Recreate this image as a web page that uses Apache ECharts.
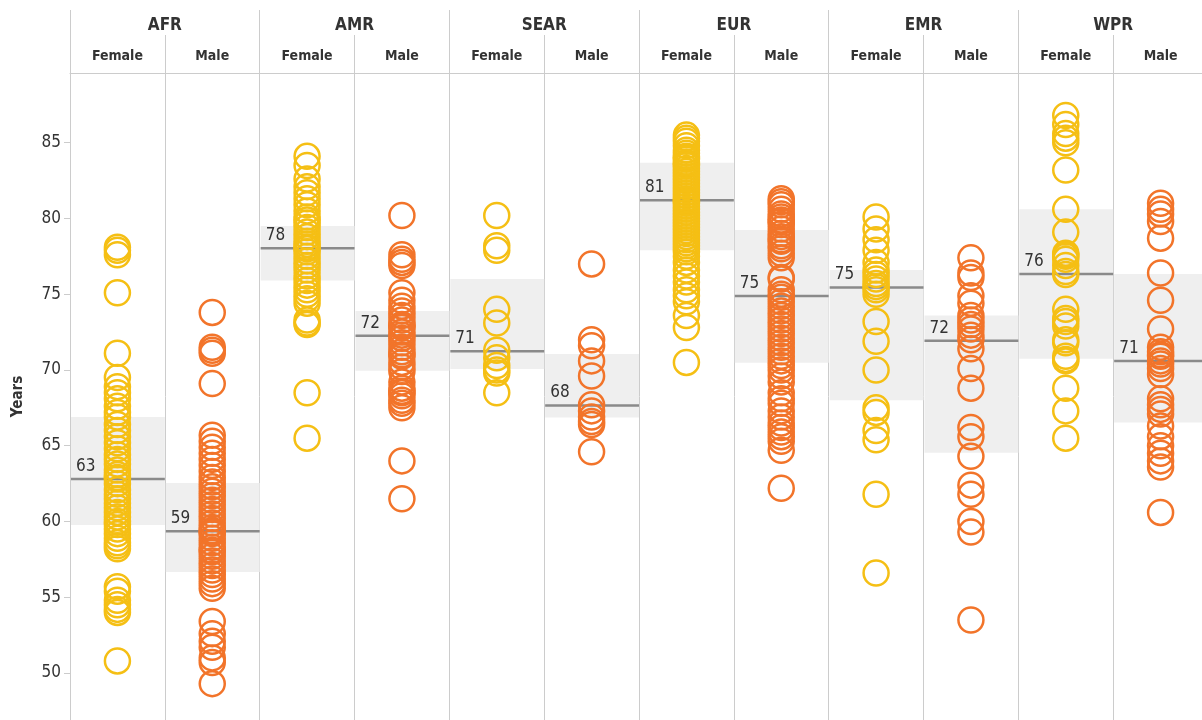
<!DOCTYPE html>
<html>
<head>
<meta charset="utf-8">
<title>Life expectancy by WHO region</title>
<script src="https://cdn.jsdelivr.net/npm/echarts@6/dist/echarts.min.js"></script>
<style>
  html, body { margin: 0; padding: 0; background: #fff; overflow: hidden; }
  #wrap { width: 1202px; height: 720px; overflow: hidden; }
  #chart { width: 1210px; height: 720px; }
</style>
</head>
<body>
<div id="wrap"><div id="chart"></div></div>
<script>
  // regions and sexes, one column per region/sex pair
  var regions = ['AFR', 'AMR', 'SEAR', 'EUR', 'EMR', 'WPR'];
  var sexes = ['Female', 'Male'];
  var yTicks = [50, 55, 60, 65, 70, 75, 80, 85];

  // life expectancy per country (years)
  var afrFemale = [78.1, 77.9, 77.6, 75.1, 71.1, 69.5, 68.9, 68.5, 68.1, 67.6, 67.2, 66.9, 66.4, 66.0, 65.6, 65.2, 64.8, 64.4, 64.1, 63.8, 63.4, 63.1, 62.9, 62.8, 62.5, 62.1, 61.8, 61.5, 61.2, 60.9, 60.6, 60.3, 60.0, 59.8, 59.5, 59.2, 58.9, 58.6, 58.4, 58.2, 55.7, 55.4, 54.8, 54.5, 54.2, 54.0, 50.8];
  var afrMale = [73.8, 71.5, 71.3, 71.1, 69.1, 65.7, 65.3, 64.9, 64.5, 64.1, 63.7, 63.3, 62.9, 62.6, 62.3, 61.7, 61.4, 61.1, 60.8, 60.5, 60.2, 59.9, 59.6, 59.4, 59.3, 59.2, 58.9, 58.6, 58.3, 58.1, 58.0, 57.7, 57.4, 57.1, 56.8, 56.5, 56.2, 55.9, 55.6, 53.4, 52.6, 52.1, 51.7, 51.0, 50.7, 49.3, 62.0];
  var amrFemale = [84.1, 83.5, 82.6, 82.1, 81.7, 81.3, 80.9, 80.5, 80.1, 79.9, 79.7, 79.4, 79.1, 78.8, 78.5, 78.3, 78.1, 78.0, 77.8, 77.5, 77.2, 76.9, 76.6, 76.2, 75.9, 75.6, 75.3, 75.0, 74.7, 74.4, 73.3, 73.1, 73.0, 68.5, 65.5];
  var amrMale = [80.2, 77.6, 77.3, 77.1, 76.9, 75.1, 74.6, 74.2, 73.9, 73.6, 73.3, 73.0, 72.9, 72.8, 72.5, 72.3, 72.1, 71.8, 71.5, 71.2, 71.0, 70.9, 70.5, 70.2, 69.9, 69.2, 68.8, 68.6, 68.5, 68.3, 68.0, 67.8, 67.5, 64.0, 61.5];
  var searFemale = [80.2, 78.2, 77.9, 74.0, 73.1, 71.3, 70.8, 70.3, 70.0, 69.8, 68.5];
  var searMale = [77.0, 72.0, 71.6, 70.6, 69.6, 67.7, 67.3, 66.9, 66.6, 66.4, 64.6];
  var eurFemale = [85.5, 85.3, 85.1, 84.8, 84.5, 84.3, 84.1, 84.0, 83.9, 83.7, 83.6, 83.5, 83.3, 83.1, 82.9, 82.7, 82.5, 82.3, 82.1, 81.9, 81.7, 81.5, 81.3, 81.2, 81.1, 81.0, 80.8, 80.6, 80.4, 80.2, 80.0, 79.8, 79.6, 79.4, 79.2, 79.0, 78.8, 78.6, 78.4, 78.2, 78.0, 77.8, 77.5, 77.1, 76.6, 76.2, 75.8, 75.3, 74.9, 74.5, 73.6, 72.8, 70.5];
  var eurMale = [81.3, 81.1, 80.9, 80.6, 80.3, 80.1, 79.9, 79.8, 79.6, 79.3, 79.0, 78.8, 78.6, 78.5, 78.2, 78.0, 77.7, 77.4, 76.1, 76.0, 75.3, 75.0, 74.8, 74.5, 74.2, 73.9, 73.6, 73.3, 73.0, 72.7, 72.4, 72.1, 71.8, 71.5, 71.2, 70.9, 70.6, 70.3, 70.0, 69.6, 69.2, 68.5, 68.1, 67.8, 67.3, 66.9, 66.5, 66.2, 65.9, 65.6, 65.3, 64.7, 62.2];
  var emrFemale = [80.1, 79.3, 78.6, 77.9, 77.1, 76.6, 76.3, 76.0, 75.7, 75.5, 75.3, 75.0, 73.2, 71.9, 70.0, 67.5, 67.2, 66.0, 65.4, 61.8, 56.6];
  var emrMale = [77.4, 76.4, 76.1, 74.9, 74.4, 73.6, 73.3, 73.0, 72.7, 72.3, 72.0, 71.4, 70.1, 68.8, 66.2, 65.6, 64.3, 62.4, 61.8, 60.0, 59.3, 53.5];
  var wprFemale = [86.8, 86.2, 85.6, 85.3, 85.0, 83.2, 80.6, 79.1, 77.7, 77.6, 77.5, 77.3, 76.9, 76.5, 76.3, 74.0, 73.4, 73.2, 72.9, 72.0, 71.8, 70.9, 70.7, 70.6, 68.8, 67.3, 65.5];
  var wprMale = [81.0, 80.6, 80.3, 79.8, 78.7, 76.4, 74.6, 72.7, 71.5, 71.2, 71.0, 70.9, 70.6, 70.4, 70.1, 69.7, 68.1, 67.7, 67.4, 67.1, 66.3, 65.6, 65.0, 64.5, 64.0, 63.6, 60.6];

  // median and interquartile band per column (F, M for each region)
  var medians = [62.8, 59.35, 78.03, 72.26, 71.23, 67.66, 81.2, 74.88, 75.45, 71.93, 76.33, 70.6];
  var q3s = [66.9, 62.54, 79.5, 73.9, 76.0, 71.05, 83.68, 79.24, 76.6, 73.6, 80.6, 76.33];
  var q1s = [59.77, 56.66, 75.9, 69.95, 70.06, 66.87, 77.9, 70.48, 68.0, 64.54, 70.74, 66.54];

  var femaleByRegion = [afrFemale, amrFemale, searFemale, eurFemale, emrFemale, wprFemale];
  var maleByRegion = [afrMale, amrMale, searMale, eurMale, emrMale, wprMale];

  var font = "'DejaVu Sans Condensed', 'Liberation Sans Narrow', sans-serif";
  var femaleColor = '#f5bf14';
  var maleColor = '#f2742a';

  var columns = [];
  regions.forEach(function (r) {
    sexes.forEach(function (s) { columns.push(r + ' ' + s); });
  });
  var sexLabels = [];
  regions.forEach(function () { sexLabels = sexLabels.concat(sexes); });

  function toPoints(list, offset) {
    var out = [];
    list.forEach(function (vals, i) {
      vals.forEach(function (v) { out.push([i * 2 + offset, v]); });
    });
    return out;
  }

  var bands = medians.map(function (m, i) {
    return [i, q1s[i], q3s[i], m];
  });

  var chart = echarts.init(document.getElementById('chart'));
  chart.setOption({
    animation: false,
    grid: { left: 70, top: 73, width: 1138, bottom: 0 },
    xAxis: [
      {
        type: 'category',
        data: columns,
        axisLine: { show: false },
        axisTick: { show: false },
        axisLabel: { show: false },
        splitLine: { show: true, interval: 0, lineStyle: { color: '#cccccc', width: 1 } }
      },
      {
        type: 'category',
        data: sexLabels,
        position: 'top',
        axisLine: { show: true, lineStyle: { color: '#cccccc', width: 1 } },
        axisTick: { show: true, interval: 0, length: 38, lineStyle: { color: '#cccccc' } },
        axisLabel: {
          interval: 0, margin: 10, color: '#333',
          fontFamily: font, fontWeight: 'bold', fontSize: 14
        }
      },
      {
        type: 'category',
        data: regions,
        position: 'top',
        axisLine: { show: false },
        axisTick: { show: true, interval: 0, length: 63, lineStyle: { color: '#cccccc' } },
        axisLabel: {
          interval: 0, margin: 39, color: '#333',
          fontFamily: font, fontWeight: 'bold', fontSize: 17
        }
      }
    ],
    yAxis: {
      type: 'value',
      min: 46.9,
      max: 89.6,
      name: 'Years',
      nameLocation: 'middle',
      nameGap: 44,
      nameRotate: 90,
      nameTextStyle: { fontFamily: font, fontWeight: 'bold', fontSize: 15, color: '#333' },
      axisLine: { show: true, lineStyle: { color: '#cccccc' } },
      axisTick: { show: true, length: 6, customValues: yTicks, lineStyle: { color: '#cccccc' } },
      axisLabel: { customValues: yTicks, margin: 9, color: '#333', fontFamily: font, fontSize: 17 },
      splitLine: { show: false }
    },
    series: [
      {
        type: 'custom',
        z: 1,
        silent: true,
        data: bands,
        renderItem: function (params, api) {
          var col = api.value(0);
          var lo = api.coord([col, api.value(1)]);
          var hi = api.coord([col, api.value(2)]);
          var mid = api.coord([col, api.value(3)]);
          var w = api.size([1, 0])[0];
          var left = mid[0] - w / 2;
          return {
            type: 'group',
            children: [
              {
                type: 'rect',
                shape: { x: left + 1, y: hi[1], width: w - 1, height: lo[1] - hi[1] },
                style: { fill: '#efefef' }
              },
              {
                type: 'line',
                shape: { x1: left + 1, y1: mid[1], x2: left + w, y2: mid[1] },
                style: { stroke: '#8a8a8a', lineWidth: 2.5 }
              },
              {
                type: 'text',
                x: left + 6,
                y: mid[1] - 4,
                style: {
                  text: String(Math.round(api.value(3))),
                  fill: '#333',
                  font: '17px ' + font,
                  textVerticalAlign: 'bottom'
                }
              }
            ]
          };
        }
      },
      {
        name: 'Female',
        type: 'scatter',
        z: 3,
        symbol: 'circle',
        symbolSize: 25,
        data: toPoints(femaleByRegion, 0),
        itemStyle: { color: 'rgba(0,0,0,0)', borderColor: femaleColor, borderWidth: 2.5, opacity: 1 }
      },
      {
        name: 'Male',
        type: 'scatter',
        z: 3,
        symbol: 'circle',
        symbolSize: 25,
        data: toPoints(maleByRegion, 1),
        itemStyle: { color: 'rgba(0,0,0,0)', borderColor: maleColor, borderWidth: 2.5, opacity: 1 }
      }
    ]
  });
</script>
</body>
</html>
